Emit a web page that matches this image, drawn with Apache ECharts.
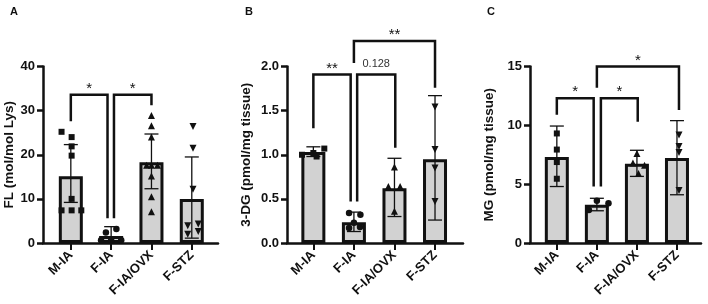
<!DOCTYPE html>
<html>
<head>
<meta charset="utf-8">
<script src="https://cdn.jsdelivr.net/npm/echarts@6/dist/echarts.min.js"></script>
<style>
	html, body { margin: 0; padding: 0; background: #fff; }
	#chart { width: 708px; height: 304px; }
</style>
</head>
<body>
<div id="chart"></div>
<script type="text/javascript">
	var cats = ['M-IA', 'F-IA', 'F-IA/OVX', 'F-STZ'];

	// A: FL (mol/mol Lys)
	var flMean = [15.1, 1.6, 18.3, 10.0];
	var flHi = [22.3, 3.7, 24.7, 19.5];
	var flLo = [9.2, 0.5, 12.3, 1.1];
	var flPts = [
		[[-0.23, 25.2], [0.02, 24.0], [0.02, 21.9], [0.02, 19.8], [0.02, 10.0], [-0.23, 7.4], [0.02, 7.4], [0.26, 7.4]],
		[[-0.13, 2.4], [0.13, 3.2], [-0.25, 0.6], [0, 0.6], [0.25, 0.6]],
		[[0, 28.9], [0, 26.6], [0, 24.0], [-0.12, 17.6], [0, 17.6], [0.15, 17.6], [0, 15.2], [0, 10.5], [0, 7.1]],
		[[0.03, 26.4], [0.03, 21.5], [0.03, 12.2], [0.16, 4.3], [-0.1, 3.9], [0.16, 2.6], [-0.1, 2.0]]
	];
	// brackets: x left, x right, left leg end, right leg end, top, text
	var flSig = [[0, 0.91, 27.6, 5.6, 33.6, '*'], [1.07, 2.0, 5.6, 31.2, 33.6, '*']];

	// B: 3-DG (pmol/mg tissue)
	var dgMean = [1.03, 0.235, 0.62, 0.95];
	var dgHi = [1.09, 0.35, 0.96, 1.67];
	var dgLo = [0.98, 0.13, 0.30, 0.26];
	var dgPts = [
		[[-0.28, 1.00], [0, 1.02], [0.08, 0.98], [0.27, 1.07]],
		[[-0.12, 0.34], [0.16, 0.32], [0, 0.23], [-0.12, 0.17], [0.15, 0.18]],
		[[0, 0.86], [-0.15, 0.64], [0.14, 0.64], [0, 0.36]],
		[[0, 1.54], [0, 1.06], [0, 0.85], [0, 0.47]]
	];
	var dgSig = [[0, 0.92, 1.30, 0.47, 1.91, '**'], [1.08, 2.02, 0.47, 1.08, 1.91, '0.128'], [1.0, 3.0, 2.04, 1.76, 2.29, '**']];

	// C: MG (pmol/mg tissue)
	var mgMean = [7.31, 3.26, 6.74, 7.22];
	var mgHi = [9.94, 3.8, 7.88, 10.4];
	var mgLo = [4.8, 2.74, 5.66, 4.1];
	var mgPts = [
		[[0, 9.31], [0, 7.94], [0, 6.88], [0, 5.46]],
		[[0, 3.6], [0.29, 3.37], [-0.2, 2.81]],
		[[0, 7.6], [-0.1, 6.8], [0.19, 6.6], [0.04, 5.9]],
		[[0.05, 9.17], [0.05, 8.2], [0.05, 7.7], [0.05, 4.46]]
	];
	var mgSig = [[0, 0.92, 10.9, 4.8, 12.3, '*'], [1.1, 2.02, 4.8, 10.3, 12.3, '*'], [1.0, 3.05, 13.2, 11.3, 15.0, '*']];

	var ink = '#111';
	var font = 'Liberation Sans, Arial, sans-serif';
	var syms = ['rect', 'circle', 'triangle', 'triangle'];
	var symRot = [0, 0, 0, 180];
	var symSize = [6, 6.5, 7, 7];

	var panels = [
		{ tag: 'A', name: 'FL (mol/mol Lys)', mean: flMean, hi: flHi, lo: flLo, pts: flPts, sig: flSig,
		  left: 43, width: 175, xmin: -0.69, xmax: 3.65, ymax: 40, step: 10, dec: 0, tx: 5, gap: 27 },
		{ tag: 'B', name: '3-DG (pmol/mg tissue)', mean: dgMean, hi: dgHi, lo: dgLo, pts: dgPts, sig: dgSig,
		  left: 287, width: 176, xmin: -0.65, xmax: 3.69, ymax: 2, step: 0.5, dec: 1, tx: 240, gap: 34 },
		{ tag: 'C', name: 'MG (pmol/mg tissue)', mean: mgMean, hi: mgHi, lo: mgLo, pts: mgPts, sig: mgSig,
		  left: 530, width: 171, xmin: -0.67, xmax: 3.6, ymax: 15, step: 5, dec: 0, tx: 482, gap: 34 }
	];

	var grids = [], xAxes = [], yAxes = [], series = [], titles = [];

	panels.forEach(function (p, k) {
		grids.push({ left: p.left, top: 66.5, width: p.width, height: 176.5 });
		titles.push({ text: p.tag, left: p.tx, top: 1, textStyle: { fontSize: 11, fontWeight: 'bold', color: ink, fontFamily: font } });
		xAxes.push({
			type: 'value', gridIndex: k, min: p.xmin, max: p.xmax,
			splitLine: { show: false },
			axisLine: { onZero: false, lineStyle: { color: ink, width: 2.5 } },
			axisTick: { customValues: [0, 1, 2, 3], length: 7, lineStyle: { color: ink, width: 2 } },
			axisLabel: {
				customValues: [0, 1, 2, 3], rotate: 45, margin: 10,
				formatter: function (v) { return cats[Math.round(v)]; },
				color: ink, fontSize: 13, fontWeight: 'bold', fontFamily: font
			}
		});
		yAxes.push({
			type: 'value', gridIndex: k, min: 0, max: p.ymax, interval: p.step,
			name: p.name, nameLocation: 'middle', nameGap: p.gap,
			nameTextStyle: { fontSize: 13.5, fontWeight: 'bold', color: ink, fontFamily: font },
			splitLine: { show: false },
			axisLine: { show: true, onZero: false, lineStyle: { color: ink, width: 2.5 } },
			axisTick: { show: true, length: 6, lineStyle: { color: ink, width: 2.5 } },
			axisLabel: {
				margin: 8, color: ink, fontSize: 13, fontWeight: 'bold', fontFamily: font,
				formatter: function (v) { return v.toFixed(p.dec); }
			}
		});

		// bars
		series.push({
			type: 'bar', xAxisIndex: k, yAxisIndex: k, barWidth: 24,
			data: p.mean.map(function (v, i) { return [i, v]; }),
			itemStyle: { color: '#d2d2d2', borderColor: ink, borderWidth: 3 },
			z: 2
		});

		// error bars (SD)
		series.push({
			type: 'custom', xAxisIndex: k, yAxisIndex: k, z: 3,
			data: p.mean.map(function (v, i) { return [i, p.lo[i], p.hi[i]]; }),
			renderItem: function (params, api) {
				var x = api.value(0);
				var a = api.coord([x, api.value(2)]);
				var b = api.coord([x, api.value(1)]);
				var st = { stroke: ink, lineWidth: 1.3 };
				return {
					type: 'group',
					children: [
						{ type: 'line', shape: { x1: a[0], y1: a[1], x2: b[0], y2: b[1] }, style: st },
						{ type: 'line', shape: { x1: a[0] - 7, y1: a[1], x2: a[0] + 7, y2: a[1] }, style: st },
						{ type: 'line', shape: { x1: b[0] - 7, y1: b[1], x2: b[0] + 7, y2: b[1] }, style: st }
					]
				};
			}
		});

		// individual points
		var pd = [];
		p.pts.forEach(function (list, i) {
			list.forEach(function (pt) {
				pd.push({ value: [i + pt[0], pt[1]], symbol: syms[i], symbolRotate: symRot[i], symbolSize: symSize[i] });
			});
		});
		series.push({
			type: 'scatter', xAxisIndex: k, yAxisIndex: k, z: 4,
			data: pd, itemStyle: { color: ink, opacity: 1 }
		});

		// significance brackets
		series.push({
			type: 'custom', xAxisIndex: k, yAxisIndex: k, z: 5, clip: false,
			data: p.sig.map(function (s) { return s.slice(0, 5); }),
			renderItem: function (params, api) {
				var xl = api.value(0), xr = api.value(1), top = api.value(4);
				var p1 = api.coord([xl, api.value(2)]);
				var p2 = api.coord([xl, top]);
				var p3 = api.coord([xr, top]);
				var p4 = api.coord([xr, api.value(3)]);
				var txt = p.sig[params.dataIndex][5];
				var star = txt.indexOf('*') >= 0;
				return {
					type: 'group',
					children: [
						{ type: 'polyline', shape: { points: [p1, p2, p3, p4] }, style: { stroke: ink, lineWidth: 2.5, fill: null } },
						{ type: 'text', x: (p2[0] + p3[0]) / 2, y: p2[1] - (star ? 6 : 10),
						  style: { text: txt, fill: star ? ink : '#333', fontSize: star ? 15 : 11,
						           fontFamily: font, align: 'center', verticalAlign: 'middle' } }
					]
				};
			}
		});
	});

	var chart = echarts.init(document.getElementById('chart'));
	chart.setOption({
		animation: false,
		title: titles,
		grid: grids,
		xAxis: xAxes,
		yAxis: yAxes,
		series: series
	});
	window.onresize = function () {
		chart.resize();
	};
</script>
</body>
</html>
